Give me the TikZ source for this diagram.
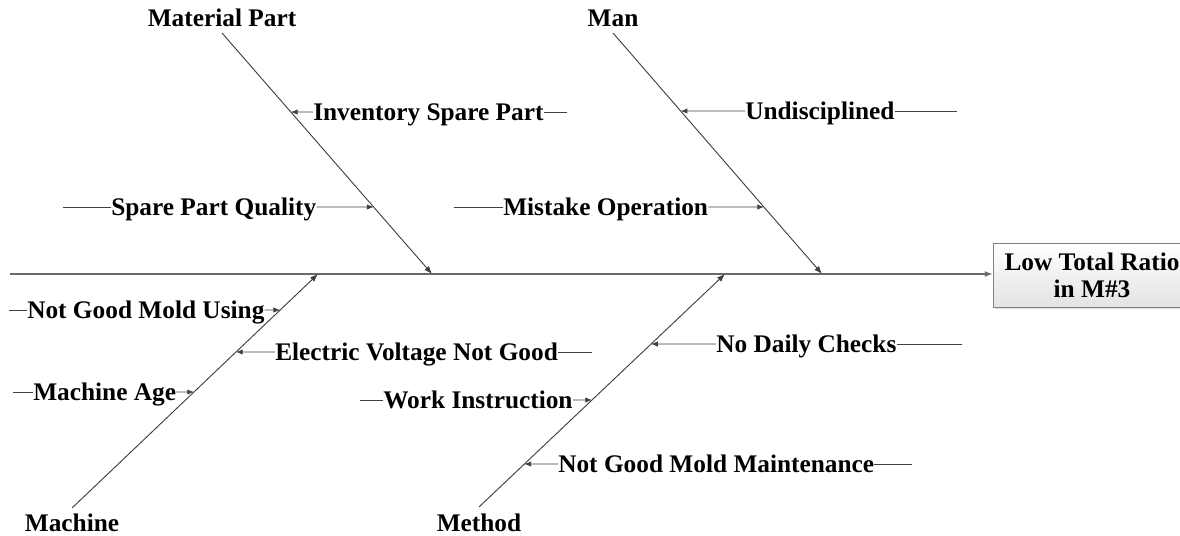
\documentclass[tikz,border=0pt]{standalone}
\usepackage{fontspec}
\setmainfont{Liberation Serif}
\usetikzlibrary{arrows.meta,shadows}

\definecolor{linegray}{HTML}{404040}
\definecolor{spinegray}{HTML}{6A6A6A}

\tikzset{
  label/.style={font=\fontsize{19}{20}\selectfont\bfseries, inner sep=0pt},
  cause/.style={label, anchor=west, text height=12.5pt, text depth=0pt},
  twig/.style={draw=linegray, line width=0.6pt},
  tip/.style={twig, -{Latex[length=5pt,width=4pt]}},
  bone/.style={draw=linegray, line width=0.7pt, -{Latex[length=6pt,width=4.5pt]}},
  spine/.style={draw=spinegray, line width=1pt, -{Latex[length=6pt,width=4.5pt]}},
  head/.style={label, draw=gray, align=center, top color=white, bottom color=gray!22,
    minimum width=198pt*0.75, minimum height=64pt*0.75,
    drop shadow={opacity=0.25, shadow xshift=1.2pt, shadow yshift=-1.2pt}},
}

\begin{document}
\begin{tikzpicture}[x=0.75pt, y=-0.75pt]
      \useasboundingbox (0,0) rectangle (1180,535);

      % head and spine
      \node[head] (head) at (1092,275) {Low Total Ratio\\in M\#3};
      \coordinate (tail) at (10,274);
      \draw[spine] (tail) -- (tail -| head.west);

      % main bones
      \node[label] (matl) at (222,18) {Material Part};
      \node[label] (man) at (613,18) {Man};
      \node[label] (mach) at (72,523) {Machine};
      \node[label] (meth) at (479,523) {Method};

      \coordinate (m1) at (222,33);  \coordinate (m2) at (432,274);
      \coordinate (n1) at (613,33);  \coordinate (n2) at (822,274);
      \coordinate (h1) at (72,508);  \coordinate (h2) at (318,274);
      \coordinate (d1) at (479,507); \coordinate (d2) at (725,274);

      \draw[bone] (m1) -- (m2);
      \draw[bone] (n1) -- (n2);
      \draw[bone] (h1) -- (h2);
      \draw[bone] (d1) -- (d2);

      % material part
      \node[cause] (inv) at (313,112) {Inventory Spare Part};
      \coordinate (inv-f) at (567,112);
      \coordinate (inv-b) at (intersection of m1--m2 and 0,112--100,112);
      \draw[tip] (inv.west) -- (inv-b);
      \draw[twig] (inv.east) -- (inv-f);

      \node[cause] (spq) at (111,207) {Spare Part Quality};
      \coordinate (spq-f) at (63,207);
      \coordinate (spq-b) at (intersection of m1--m2 and 0,207--100,207);
      \draw[twig] (spq-f) -- (spq.west);
      \draw[tip] (spq.east) -- (spq-b);

      % man
      \node[cause] (und) at (745,111) {Undisciplined};
      \coordinate (und-f) at (957,111);
      \coordinate (und-b) at (intersection of n1--n2 and 0,111--100,111);
      \draw[tip] (und.west) -- (und-b);
      \draw[twig] (und.east) -- (und-f);

      \node[cause] (mis) at (503,207) {Mistake Operation};
      \coordinate (mis-f) at (454,207);
      \coordinate (mis-b) at (intersection of n1--n2 and 0,207--100,207);
      \draw[twig] (mis-f) -- (mis.west);
      \draw[tip] (mis.east) -- (mis-b);

      % machine
      \node[cause] (ngu) at (27,310) {Not Good Mold Using};
      \coordinate (ngu-f) at (9,310);
      \coordinate (ngu-b) at (intersection of h1--h2 and 0,310--100,310);
      \draw[twig] (ngu-f) -- (ngu.west);
      \draw[tip] (ngu.east) -- (ngu-b);

      \node[cause] (evn) at (275,352) {Electric Voltage Not Good};
      \coordinate (evn-f) at (592,352);
      \coordinate (evn-b) at (intersection of h1--h2 and 0,352--100,352);
      \draw[tip] (evn.west) -- (evn-b);
      \draw[twig] (evn.east) -- (evn-f);

      \node[cause] (age) at (33,392) {Machine Age};
      \coordinate (age-f) at (13,392);
      \coordinate (age-b) at (intersection of h1--h2 and 0,392--100,392);
      \draw[twig] (age-f) -- (age.west);
      \draw[tip] (age.east) -- (age-b);

      % method
      \node[cause] (ndc) at (716,344) {No Daily Checks};
      \coordinate (ndc-f) at (962,344);
      \coordinate (ndc-b) at (intersection of d1--d2 and 0,344--100,344);
      \draw[tip] (ndc.west) -- (ndc-b);
      \draw[twig] (ndc.east) -- (ndc-f);

      \node[cause] (wki) at (383,400) {Work Instruction};
      \coordinate (wki-f) at (360,400);
      \coordinate (wki-b) at (intersection of d1--d2 and 0,400--100,400);
      \draw[twig] (wki-f) -- (wki.west);
      \draw[tip] (wki.east) -- (wki-b);

      \node[cause] (ngm) at (558,464) {Not Good Mold Maintenance};
      \coordinate (ngm-f) at (912,464);
      \coordinate (ngm-b) at (intersection of d1--d2 and 0,464--100,464);
      \draw[tip] (ngm.west) -- (ngm-b);
      \draw[twig] (ngm.east) -- (ngm-f);
\end{tikzpicture}
\end{document}
